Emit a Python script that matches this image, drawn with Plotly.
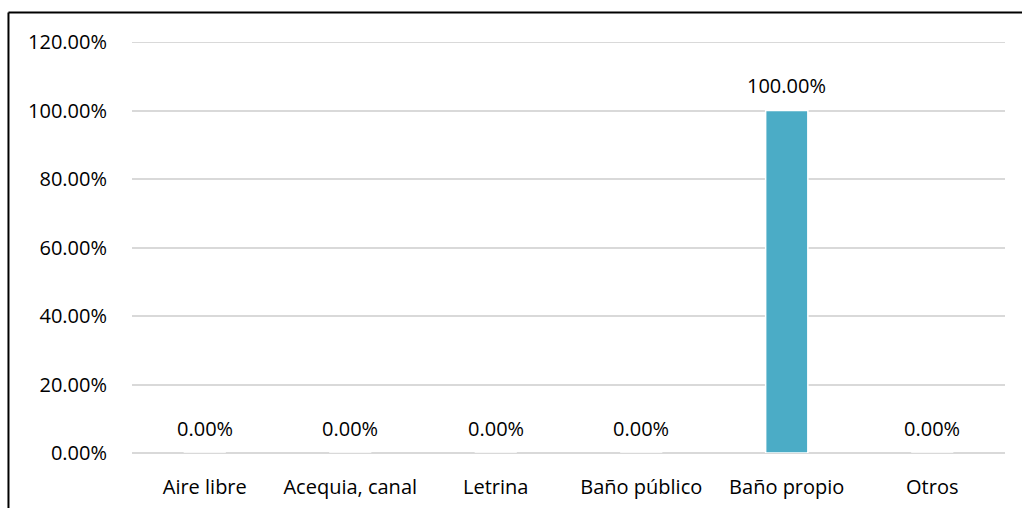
import plotly.graph_objects as go

categories = ["Aire libre", "Acequia, canal", "Letrina", "Baño público", "Baño propio", "Otros"]
porcentajes = [0.0, 0.0, 0.0, 0.0, 100.0, 0.0]
y_ticks = [0, 20, 40, 60, 80, 100, 120]
y_tick_labels = [f"{v:.2f}%" for v in y_ticks]

FONT = dict(family="Open Sans", size=20, color="#000000")
GRID = "#D9D9D9"

fig = go.Figure(
    go.Bar(
        x=categories,
        y=porcentajes,
        marker=dict(color="#4BACC6", line=dict(color="#FFFFFF", width=1.5)),
        width=0.29,
        hoverinfo="x+y",
    )
)

# value labels above each bar
for cat, val in zip(categories, porcentajes):
    fig.add_annotation(
        x=cat, y=val, text=f"{val:.2f}%", showarrow=False,
        yshift=25, font=FONT,
    )

# top gridline sits on the axis edge, so draw it explicitly
fig.add_shape(type="line", xref="paper", yref="y", layer="below",
              x0=0, x1=1, y0=y_ticks[-1], y1=y_ticks[-1],
              line=dict(color=GRID, width=2))

# frame around the chart area (left and top edges)
fig.add_shape(type="line", xref="paper", yref="paper",
              x0=-0.1415, x1=-0.1415, y0=-0.2, y1=1.072,
              line=dict(color="#000000", width=2))
fig.add_shape(type="line", xref="paper", yref="paper",
              x0=-0.1415, x1=1.05, y0=1.072, y1=1.072,
              line=dict(color="#000000", width=2))

fig.update_layout(
    width=1022, height=508,
    margin=dict(l=132, r=17, t=42, b=55),
    paper_bgcolor="#FFFFFF", plot_bgcolor="#FFFFFF",
    font=FONT,
    showlegend=False,
)
fig.update_xaxes(showgrid=False, showline=False, ticks="", tickfont=FONT,
                 ticklabelstandoff=20, automargin=False)
fig.update_yaxes(
    range=[0, 120], tickvals=y_ticks, ticktext=y_tick_labels,
    showgrid=True, gridcolor=GRID, gridwidth=1.5,
    zeroline=True, zerolinecolor=GRID, zerolinewidth=1.5,
    showline=False, ticks="", tickfont=FONT, ticklabelstandoff=24,
    automargin=False,
)

fig.write_html("out.html")
